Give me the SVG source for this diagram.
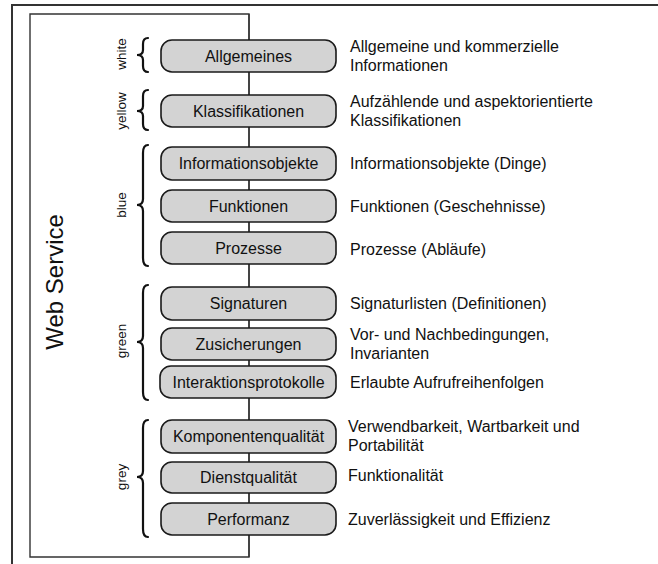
<svg xmlns="http://www.w3.org/2000/svg" width="658" height="564" viewBox="0 0 658 564">
<style>
.frame{fill:none;stroke:#333;stroke-width:2}
.inner{fill:none;stroke:#333;stroke-width:1.4}
.box{fill:#d3d3d3;stroke:#1a1a1a;stroke-width:1.6}
.brace{fill:none;stroke:#111;stroke-width:2.2;stroke-linecap:round}
.bt{font-family:"Liberation Sans",Arial,sans-serif;font-size:16px;fill:#111;text-anchor:middle}
.rt{font-family:"Liberation Sans",Arial,sans-serif;font-size:16px;fill:#111}
.cl{font-family:"Liberation Sans",Arial,sans-serif;font-size:13.5px;fill:#111;text-anchor:middle}
.title{font-family:"Liberation Sans",Arial,sans-serif;font-size:24px;fill:#111;text-anchor:middle}
</style>
<rect width="658" height="564" fill="#fff"/>
<g id="frame">
<path class="frame" d="M12,564 V5 H658"/>
<path class="inner" d="M249,14 H30 V557 H249 Z"/>
<text class="title" transform="translate(63,282) rotate(-90)">Web Service</text>
</g>
<g id="connectors">
<line x1="249" y1="14" x2="249" y2="557" stroke="#333" stroke-width="1.4"/>
</g>
<g id="braces">
<path class="brace" d="M148,38 Q143,38 143,44 L143,50 Q143,55 137,55 Q143,55 143,60 L143,66 Q143,72 148,72"/>
<path class="brace" d="M148,90 Q143,90 143,96 L143,106 Q143,111 137,111 Q143,111 143,116 L143,124 Q143,130 148,130"/>
<path class="brace" d="M148,145 Q143,145 143,153 L143,199 Q143,205 137,205 Q143,205 143,211 L143,258 Q143,266 148,266"/>
<path class="brace" d="M148,285 Q143,285 143,293 L143,336 Q143,342 137,342 Q143,342 143,348 L143,392 Q143,400 148,400"/>
<path class="brace" d="M148,420 Q143,420 143,428 L143,471 Q143,477 137,477 Q143,477 143,483 L143,529 Q143,537 148,537"/>
<text class="cl" transform="translate(126,54) rotate(-90)">white</text>
<text class="cl" transform="translate(126,111) rotate(-90)">yellow</text>
<text class="cl" transform="translate(126,205) rotate(-90)">blue</text>
<text class="cl" transform="translate(126,341) rotate(-90)">green</text>
<text class="cl" transform="translate(126,477) rotate(-90)">grey</text>
</g>
<g id="n-allgemeines"><rect class="box" x="161" y="40" width="175" height="32" rx="11"/><text class="bt" x="248.5" y="61.5">Allgemeines</text>
<text class="rt" x="350" y="52">Allgemeine und kommerzielle</text><text class="rt" x="350" y="71">Informationen</text></g>
<g id="n-klassifikationen"><rect class="box" x="161" y="95" width="175" height="32" rx="11"/><text class="bt" x="248.5" y="116.5">Klassifikationen</text>
<text class="rt" x="350" y="107">Aufzählende und aspektorientierte</text><text class="rt" x="350" y="126">Klassifikationen</text></g>
<g id="n-informationsobjekte"><rect class="box" x="161" y="147" width="175" height="33" rx="11"/><text class="bt" x="248.5" y="169">Informationsobjekte</text>
<text class="rt" x="350" y="169">Informationsobjekte (Dinge)</text></g>
<g id="n-funktionen"><rect class="box" x="161" y="190" width="175" height="32" rx="11"/><text class="bt" x="248.5" y="211.5">Funktionen</text>
<text class="rt" x="350" y="211.5">Funktionen (Geschehnisse)</text></g>
<g id="n-prozesse"><rect class="box" x="161" y="232" width="175" height="32" rx="11"/><text class="bt" x="248.5" y="253.5">Prozesse</text>
<text class="rt" x="350" y="255">Prozesse (Abläufe)</text></g>
<g id="n-signaturen"><rect class="box" x="161" y="287" width="175" height="33" rx="11"/><text class="bt" x="248.5" y="309">Signaturen</text>
<text class="rt" x="350" y="309">Signaturlisten (Definitionen)</text></g>
<g id="n-zusicherungen"><rect class="box" x="161" y="328" width="175" height="32" rx="11"/><text class="bt" x="248.5" y="349.5">Zusicherungen</text>
<text class="rt" x="350" y="340">Vor- und Nachbedingungen,</text><text class="rt" x="350" y="359">Invarianten</text></g>
<g id="n-interaktionsprotokolle"><rect class="box" x="160" y="366" width="176" height="32" rx="11"/><text class="bt" x="248.5" y="387.5">Interaktionsprotokolle</text>
<text class="rt" x="350" y="388">Erlaubte Aufrufreihenfolgen</text></g>
<g id="n-komponentenqualitaet"><rect class="box" x="161" y="420" width="175" height="33" rx="11"/><text class="bt" x="248.5" y="442">Komponentenqualität</text>
<text class="rt" x="348" y="432">Verwendbarkeit, Wartbarkeit und</text><text class="rt" x="348" y="451">Portabilität</text></g>
<g id="n-dienstqualitaet"><rect class="box" x="161" y="462" width="175" height="31" rx="11"/><text class="bt" x="248.5" y="483">Dienstqualität</text>
<text class="rt" x="348" y="481">Funktionalität</text></g>
<g id="n-performanz"><rect class="box" x="161" y="503" width="175" height="32" rx="11"/><text class="bt" x="248.5" y="524.5">Performanz</text>
<text class="rt" x="348" y="524.5">Zuverlässigkeit und Effizienz</text></g>
</svg>
